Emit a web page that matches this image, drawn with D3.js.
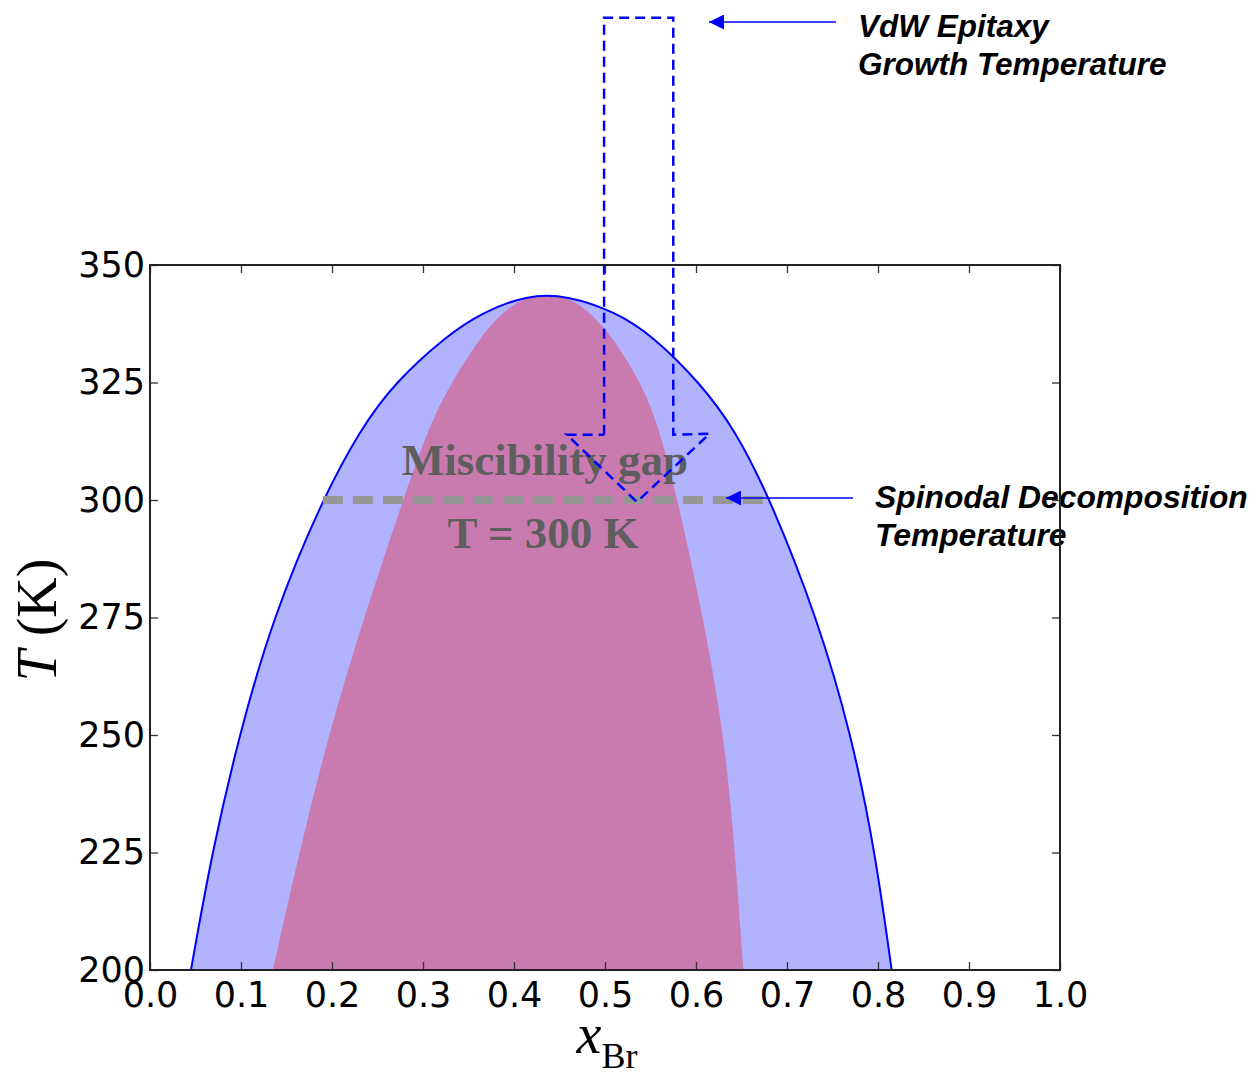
<!DOCTYPE html>
<html>
<head>
<meta charset="utf-8">
<script src="https://cdn.jsdelivr.net/npm/d3@7"></script>
<style>
  body { margin: 0; background: #fff; }
  svg { display: block; }
</style>
</head>
<body>
<svg id="chart"></svg>
<script>
let width = 1256;
let height = 1078;

// binodal (outer curve): composition x_Br and temperature T (K)
let binodalX = [0.045, 0.068, 0.098, 0.135, 0.189, 0.231, 0.269, 0.326, 0.366, 0.414,
                0.458, 0.512, 0.552, 0.604, 0.643, 0.682, 0.733, 0.771, 0.797, 0.815];
let binodalT = [200, 225, 250, 275, 300, 315, 325, 335, 340, 343.6,
                343.6, 340, 335, 325, 315, 300, 275, 250, 225, 200];

// spinodal (inner region)
let spinodalX = [0.135, 0.164, 0.196, 0.235, 0.278, 0.305, 0.331, 0.364, 0.388, 0.414,
                 0.458, 0.483, 0.507, 0.540, 0.560, 0.580, 0.608, 0.631, 0.643, 0.652];
let spinodalT = [200, 225, 250, 275, 300, 315, 325, 335, 340, 343.6,
                 343.6, 340, 335, 325, 315, 300, 275, 250, 225, 200];

let xTicks = [0.0, 0.1, 0.2, 0.3, 0.4, 0.5, 0.6, 0.7, 0.8, 0.9, 1.0];
let yTicks = [200, 225, 250, 275, 300, 325, 350];

// T = 300 K line and the growth -> decomposition arrow outline
let roomT = 300;
let roomX = [0.19, 0.68];
let arrowX = [0.499, 0.499, 0.575, 0.575, 0.615, 0.535, 0.458, 0.499];
let arrowT = [313.9, 402.6, 402.6, 313.9, 314.1, 299.6, 313.9, 313.9];

let svg = d3.select('#chart').attr('width', width).attr('height', height);

let xScale = d3.scaleLinear().domain([0, 1]).range([150, 1060]);
let yScale = d3.scaleLinear().domain([200, 350]).range([970, 265]);

let binodal = binodalX.map((x, i) => [x, binodalT[i]]);
let spinodal = spinodalX.map((x, i) => [x, spinodalT[i]]);

let line = d3.line()
    .x(d => xScale(d[0]))
    .y(d => yScale(d[1]))
    .curve(d3.curveBasis);

svg.append('defs').append('marker')
    .attr('id', 'head')
    .attr('viewBox', '0 0 10 10')
    .attr('refX', 10).attr('refY', 5)
    .attr('markerUnits', 'userSpaceOnUse')
    .attr('markerWidth', 16).attr('markerHeight', 15)
    .attr('orient', 'auto')
    .append('path')
    .attr('d', 'M0,0L10,5L0,10Z')
    .attr('fill', '#0000ff');

// regions
svg.append('path').attr('d', line(binodal) + 'Z').attr('fill', '#b2b3fe');
svg.append('path').attr('d', line(spinodal) + 'Z').attr('fill', '#c97baf');
svg.append('path').attr('d', line(binodal))
    .attr('fill', 'none').attr('stroke', '#0000ff').attr('stroke-width', 2);

// T = 300 K dashed line
svg.append('line')
    .attr('x1', xScale(roomX[0])).attr('x2', xScale(roomX[1]))
    .attr('y1', yScale(roomT)).attr('y2', yScale(roomT))
    .attr('stroke', '#969696').attr('stroke-width', 8)
    .attr('stroke-dasharray', '20,10');

let gapText = svg.append('g')
    .attr('font-family', '"Liberation Serif", "Times New Roman", serif')
    .attr('font-weight', 'bold').attr('font-size', 45)
    .attr('fill', '#5e5e5e').attr('text-anchor', 'middle');
gapText.append('text').attr('x', 545).attr('y', 475).text('Miscibility gap');
gapText.append('text').attr('x', 543).attr('y', 548).text('T = 300 K');

// dashed arrow from growth temperature down to 300 K
svg.append('path')
    .attr('d', d3.line()(arrowX.map((x, i) => [xScale(x), yScale(arrowT[i])])))
    .attr('fill', 'none').attr('stroke', '#0000ff').attr('stroke-width', 2.5)
    .attr('stroke-dasharray', '10,6');

// annotation arrows + labels
svg.append('line')
    .attr('x1', 836).attr('y1', 22).attr('x2', 709).attr('y2', 22)
    .attr('stroke', '#0000ff').attr('stroke-width', 1.5)
    .attr('marker-end', 'url(#head)');
svg.append('line')
    .attr('x1', 853).attr('y1', 498).attr('x2', 726).attr('y2', 498)
    .attr('stroke', '#0000ff').attr('stroke-width', 1.5)
    .attr('marker-end', 'url(#head)');

let notes = svg.append('g')
    .attr('font-family', '"Liberation Sans", Arial, sans-serif')
    .attr('font-weight', 'bold').attr('font-style', 'italic')
    .attr('fill', '#000');
notes.append('text').attr('x', 858).attr('y', 37).attr('font-size', 31.5).text('VdW Epitaxy');
notes.append('text').attr('x', 858).attr('y', 75).attr('font-size', 31.5).text('Growth Temperature');
notes.append('text').attr('x', 875).attr('y', 508).attr('font-size', 31.8).text('Spinodal Decomposition');
notes.append('text').attr('x', 875).attr('y', 546).attr('font-size', 31.8).text('Temperature');

// axes
let tickFont = '"DejaVu Sans", sans-serif';
function styleAxis(g) {
    g.select('.domain').remove();
    g.selectAll('.tick line').attr('stroke', '#333').attr('stroke-width', 1.3);
    g.selectAll('.tick text').attr('font-family', tickFont).attr('font-size', 35).attr('fill', '#000');
}
svg.append('g').attr('transform', 'translate(0,970)')
    .call(d3.axisBottom(xScale).tickValues(xTicks).tickFormat(d3.format('.1f'))
        .tickSizeInner(-8).tickSizeOuter(0).tickPadding(12))
    .call(styleAxis);
svg.append('g').attr('transform', 'translate(0,265)')
    .call(d3.axisTop(xScale).tickValues(xTicks).tickFormat('').tickSizeInner(-8).tickSizeOuter(0))
    .call(styleAxis);
svg.append('g').attr('transform', 'translate(150,0)')
    .call(d3.axisLeft(yScale).tickValues(yTicks).tickFormat(d3.format('d'))
        .tickSizeInner(-8).tickSizeOuter(0).tickPadding(5))
    .call(styleAxis);
svg.append('g').attr('transform', 'translate(1060,0)')
    .call(d3.axisRight(yScale).tickValues(yTicks).tickFormat('').tickSizeInner(-8).tickSizeOuter(0))
    .call(styleAxis);

svg.append('rect')
    .attr('x', 150).attr('y', 265).attr('width', 910).attr('height', 705)
    .attr('fill', 'none').attr('stroke', '#222').attr('stroke-width', 2);

// axis labels
let serif = '"Liberation Serif", "Times New Roman", serif';
let ylab = svg.append('text')
    .attr('transform', 'translate(56,620) rotate(-90)')
    .attr('text-anchor', 'middle')
    .attr('font-family', serif).attr('font-size', 56);
ylab.append('tspan').attr('font-style', 'italic').text('T');
ylab.append('tspan').text(' (K)');

let xlab = svg.append('text')
    .attr('x', 607).attr('y', 1053)
    .attr('text-anchor', 'middle')
    .attr('font-family', serif);
xlab.append('tspan').attr('font-style', 'italic').attr('font-size', 56).text('x');
xlab.append('tspan').attr('font-size', 36).attr('dy', 15).text('Br');
</script>
</body>
</html>
